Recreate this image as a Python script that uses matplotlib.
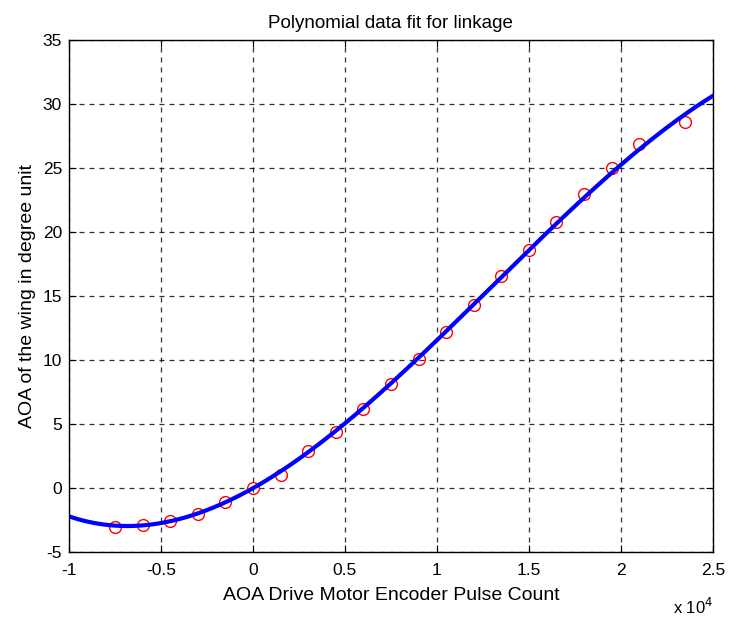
import matplotlib
matplotlib.use("Agg")
import matplotlib.pyplot as plt
import numpy as np

plt.rcParams['font.family'] = ['Liberation Sans', 'DejaVu Sans']
plt.rcParams['axes.unicode_minus'] = False

# encoder pulse count vs. measured wing angle
pulse_count = [-7500, -6000, -4500, -3000, -1500, 0, 1500, 3000, 4500, 6000,
               7500, 9000, 10500, 12000, 13500, 15000, 16500, 18000, 19500,
               21000, 23500]
aoa_deg = [-3.05, -2.9, -2.55, -2.0, -1.05, 0.0, 1.0, 2.9, 4.4, 6.15,
           8.1, 10.1, 12.2, 14.3, 16.55, 18.6, 20.8, 22.95, 25.0,
           26.9, 28.6]

# cubic fit of the linkage, x in units of 1e4 counts (highest power first)
fit_coef = [-1.204, 4.68, 8.084, 0.0]

x = np.array(pulse_count) / 1e4
y = np.array(aoa_deg)

xf = np.linspace(-1, 2.5, 300)
yf = np.polyval(fit_coef, xf)

fig = plt.figure(figsize=(7.3, 6.17), dpi=100)
ax = fig.add_axes([0.0945, 0.105, 0.882, 0.83])

ax.plot(x, y, 'o', mfc='none', mec='red', ms=8.5, mew=1.0)
ax.plot(xf, yf, '-', color='blue', lw=3)

ax.set_xlim(-1, 2.5)
ax.set_ylim(-5, 35)
ax.set_xticks(np.arange(-1, 2.51, 0.5))
ax.set_xticklabels(['-1', '-0.5', '0', '0.5', '1', '1.5', '2', '2.5'])
ax.set_yticks(np.arange(-5, 36, 5))
ax.tick_params(direction='in', top=True, right=True, labelsize=12.5, length=5)
ax.tick_params(axis='x', pad=8)
ax.tick_params(axis='y', pad=5)
ax.grid(True, color='black', linestyle=(0, (4, 4)), linewidth=0.9, alpha=0.8)
for s in ax.spines.values():
    s.set_linewidth(1.0)

ax.set_title('Polynomial data fit for linkage', fontsize=13.5, pad=9)
ax.set_xlabel('AOA Drive Motor Encoder Pulse Count', fontsize=14, labelpad=6)
ax.set_ylabel('AOA of the wing in degree unit', fontsize=14, labelpad=5)
fig.text(0.977, 0.016, r'x 10$^4$', fontsize=12, ha='right', va='center')

fig.savefig('out.png', dpi=100)
